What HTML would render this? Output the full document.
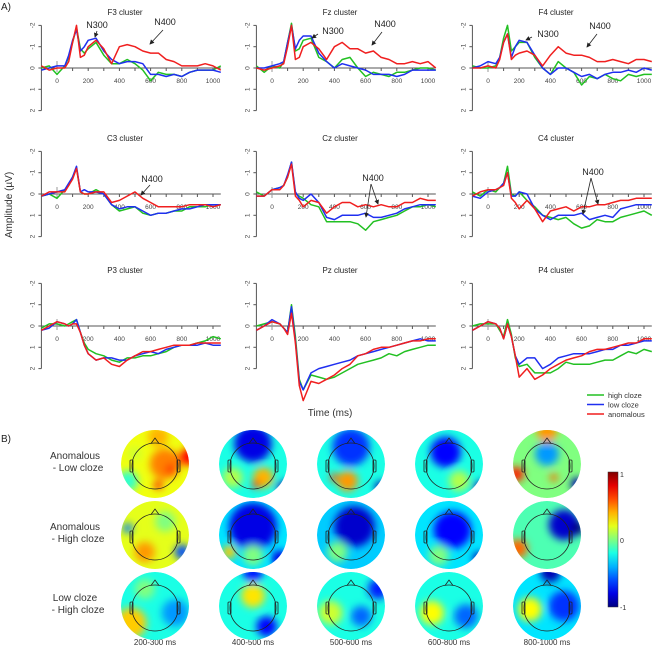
<!DOCTYPE html>
<html><head><meta charset="utf-8"><style>
html,body{margin:0;padding:0;background:#fff;}
svg{display:block;font-family:"Liberation Sans",sans-serif;}
</style></head><body>
<svg id="fig" width="654" height="650" viewBox="0 0 654 650" xmlns="http://www.w3.org/2000/svg">
<defs>
<filter id="blur" x="-50%" y="-50%" width="200%" height="200%"><feGaussianBlur stdDeviation="4"/></filter>
<marker id="arr" markerWidth="6" markerHeight="6" refX="5" refY="3" orient="auto"><path d="M0,0 L6,3 L0,6 z" fill="#222"/></marker>
</defs>
<text x="1" y="10" font-size="10" fill="#222">A)</text>
<text x="1" y="442" font-size="10" fill="#222">B)</text>
<text transform="translate(12,205) rotate(-90)" text-anchor="middle" font-size="10" fill="#333">Amplitude (µV)</text>
<text x="330" y="416" text-anchor="middle" font-size="10" fill="#333">Time (ms)</text>
<g id="plots"></g>
<g id="topos"></g>
</svg>
<script>
const times=[-100,-50,0,50,75,100,125,150,175,200,250,300,350,400,450,500,550,600,650,700,750,800,850,900,950,1000,1050];
const panelNames=["F3","Fz","F4","C3","Cz","C4","P3","Pz","P4"];
const seriesNames=["high cloze","low cloze","anomalous"];
const seriesColors=["#22c022","#1f2ff0","#f01f1f"];
const xTicks=[0,200,400,600,800,1000];
const yTicks=[-2,-1,0,1,2];
const F3_high=[0,-0.1,0.3,-0.1,-0.5,-1.2,-1.9,-0.9,-0.7,-0.9,-1.2,-0.6,-0.2,-0.2,-0.4,-0.2,0.1,0.6,0.2,0.3,0.3,0.4,0.2,0.1,0.1,0.1,-0.1];
const F3_low=[0.1,0,-0.1,-0.1,-0.6,-1.3,-1.8,-0.8,-1.0,-1.3,-1.4,-0.8,-0.4,-0.2,-0.3,-0.3,-0.2,0.3,0.3,0.4,0.3,0.4,0.2,0.1,0.1,0.1,0.2];
const F3_anom=[-0.1,0.1,0,0,-0.3,-1.2,-2.0,-0.5,-0.6,-1.0,-1.3,-0.9,-0.2,-1.0,-1.1,-1.0,-0.8,-0.7,-0.7,-0.4,-0.3,-0.1,-0.1,-0.1,-0.2,-0.1,0.1];
const Fz_high=[-0.1,0.2,-0.1,0,-0.3,-1.2,-2.1,-0.8,-0.9,-1.3,-1.4,-0.5,-0.3,0,-0.4,-0.5,0,0.4,0.2,0.3,0.4,0.2,0.2,0.1,0,0,0.1];
const Fz_low=[0,0,-0.1,-0.2,-0.3,-1.2,-2.0,-0.9,-1.3,-1.5,-1.5,-0.7,-0.3,0,-0.2,-0.1,0,0.1,0.3,0.3,0.3,0.4,0.3,0.1,0.1,0.1,0.1];
const Fz_anom=[0,0.1,0,-0.1,-0.2,-1.0,-2.0,-0.4,-0.5,-1.0,-1.2,-0.9,-0.4,-1.0,-1.2,-0.9,-0.9,-0.7,-0.8,-0.5,-0.4,-0.2,-0.2,-0.3,-0.2,-0.3,0];
const F4_high=[-0.1,0,0,-0.1,-0.5,-1.4,-2.0,-0.8,-1.0,-1.2,-1.2,-0.5,0,0.3,-0.3,0,0.2,0.8,0.4,0.5,0.3,0.5,0.6,0.3,0.4,0.3,0.3];
const F4_low=[0,-0.1,-0.3,-0.2,-0.5,-1.2,-1.6,-0.5,-1.0,-1.3,-1.2,-0.6,0,0.3,0,0,0.2,0.4,0.3,0.5,0.3,0.2,0.2,0.1,0.2,0,0.1];
const F4_anom=[0,0,-0.1,0,-0.4,-1.2,-1.6,-0.4,-0.6,-0.7,-0.8,-0.6,-0.1,-0.6,-1.0,-0.7,-0.6,-0.6,-0.5,-0.3,-0.3,-0.4,-0.3,-0.2,-0.4,-0.4,-0.3];
const C3_high=[0.1,0,0.2,-0.2,-0.4,-0.8,-1.2,-0.1,0,0,-0.2,0,0.5,0.8,0.7,0.6,0.9,1.0,0.9,0.9,0.8,0.8,0.6,0.6,0.6,0.5,0.5];
const C3_low=[0.1,0,-0.1,-0.2,-0.5,-0.8,-1.3,-0.1,-0.2,-0.1,-0.1,0,0.5,0.7,0.6,0.6,0.8,1.0,0.9,0.9,0.8,0.7,0.7,0.6,0.5,0.5,0.5];
const C3_anom=[0.1,-0.1,-0.1,-0.1,-0.4,-0.7,-1.2,-0.1,0,0,-0.1,-0.1,0.4,0.3,0.1,-0.1,0.2,0.4,0.6,0.6,0.6,0.6,0.5,0.5,0.5,0.6,0.5];
const Cz_high=[-0.1,0.1,-0.2,-0.3,-0.4,-0.8,-1.5,0,0.1,0.2,0.5,0.6,1.3,1.3,1.3,1.3,1.4,1.7,1.3,1.2,1.1,1.0,0.8,0.6,0.6,0.5,0.6];
const Cz_low=[0.1,0.1,-0.2,-0.3,-0.4,-0.9,-1.5,-0.1,0.2,0.3,0,0.4,1.1,1.2,1.0,1.0,1.0,0.9,1.1,1.1,1.0,0.9,0.7,0.6,0.5,0.5,0.5];
const Cz_anom=[0.1,0.1,-0.2,-0.2,-0.4,-0.8,-1.4,0.1,0.3,0.6,0.3,0.4,0.9,0.6,0.4,0.4,0.6,0.5,0.6,0.5,0.6,0.6,0.4,0.4,0.2,0.3,0.3];
const C4_high=[-0.1,0.1,-0.2,-0.1,-0.3,-0.5,-1.3,0,0.1,-0.1,0.3,0.6,1.0,1.1,1.2,1.1,1.4,1.6,1.5,1.2,1.3,1.3,1.1,1.0,0.9,0.8,1.0];
const C4_low=[0.1,0.2,-0.1,-0.2,-0.3,-0.5,-1.0,0.1,0.1,-0.1,0,0.7,1.0,1.2,1.0,1.0,1.0,0.9,1.2,1.1,1.0,1.1,0.7,0.6,0.5,0.5,0.5];
const C4_anom=[0.1,-0.1,-0.2,-0.2,-0.3,-0.4,-1.0,0.2,0.4,0.7,0.3,0.7,1.3,0.8,0.7,0.6,0.8,0.6,0.6,0.5,0.5,0.4,0.3,0.3,0.2,0.2,0.2];
const P3_high=[0.1,-0.1,-0.1,0,-0.1,-0.2,-0.3,0.3,0.8,1.1,1.3,1.4,1.6,1.7,1.5,1.5,1.4,1.4,1.3,1.2,1.0,0.9,0.9,0.8,0.7,0.5,0.6];
const P3_low=[0.2,0.1,-0.2,-0.1,0,-0.1,-0.3,0.3,0.9,1.3,1.6,1.5,1.5,1.6,1.6,1.4,1.3,1.2,1.3,1.1,1.0,0.9,0.9,0.9,0.8,0.9,0.9];
const P3_anom=[0.2,0,-0.2,-0.1,0,-0.1,-0.1,0.3,0.9,1.3,1.6,1.5,1.8,1.9,1.6,1.4,1.2,1.2,1.1,1.0,0.9,0.9,0.9,0.8,0.8,0.8,0.8];
const Pz_high=[0,-0.1,-0.2,-0.1,0.1,0.3,-1.0,0.5,2.5,3.0,2.3,2.4,2.5,2.4,2.2,2.0,1.8,1.7,1.6,1.5,1.3,1.4,1.2,1.1,1.0,0.9,0.9];
const Pz_low=[0.2,0,-0.3,-0.1,0.1,0.3,-0.9,0.7,2.6,3.0,2.2,2.0,1.9,1.8,1.7,1.6,1.4,1.3,1.2,1.1,1.0,0.9,0.8,0.7,0.6,0.7,0.7];
const Pz_anom=[0.2,0,-0.2,-0.1,0.1,0.4,-0.6,0.8,2.8,3.5,2.6,2.7,2.5,2.3,2.0,1.8,1.4,1.3,1.1,1.0,1.0,0.9,0.8,0.7,0.7,0.6,0.6];
const P4_high=[0,-0.1,-0.1,-0.1,0.2,0.5,-0.3,0.4,1.5,1.9,1.8,2.2,2.2,2.2,2.0,1.7,1.8,1.8,1.8,1.7,1.6,1.6,1.4,1.2,1.3,1.1,1.2];
const P4_low=[0.2,0,-0.2,-0.1,0.1,0.6,-0.1,0.5,1.4,1.8,1.5,1.5,2.0,1.8,1.5,1.4,1.3,1.3,1.3,1.2,1.1,1.1,0.9,0.9,0.8,0.7,0.7];
const P4_anom=[0.2,0,-0.2,-0.1,0.1,0.6,-0.1,0.5,1.4,2.4,2.0,2.5,2.3,2.0,1.8,1.6,1.5,1.4,1.2,1.1,1.1,1.0,0.9,0.8,0.8,0.6,0.6];
const panelSeries=[[F3_high,F3_low,F3_anom],[Fz_high,Fz_low,Fz_anom],[F4_high,F4_low,F4_anom],[C3_high,C3_low,C3_anom],[Cz_high,Cz_low,Cz_anom],[C4_high,C4_low,C4_anom],[P3_high,P3_low,P3_anom],[Pz_high,Pz_low,Pz_anom],[P4_high,P4_low,P4_anom]];

const NS="http://www.w3.org/2000/svg";
function mk(tag,attrs,parent){const e=document.createElementNS(NS,tag);for(const k in attrs)e.setAttribute(k,attrs[k]);if(parent)parent.appendChild(e);return e;}
const colX0=[57,272,488], rowY0=[68,194,326];
const XS=0.156, YS=21.3;
const plots=document.getElementById('plots');
panelNames.forEach((nm,i)=>{
  const x0=colX0[i%3], y0=rowY0[Math.floor(i/3)];
  const sx=t=>x0+t*XS, sy=v=>y0+v*YS;
  const g=mk('g',{},plots);
  
  
  const title=mk('text',{x:x0+68,y:y0-53,'text-anchor':'middle','font-size':'8',fill:'#222'},g);
  title.textContent=nm+' cluster';
  
  
  const ax=sx(-100);
  const yaxis=mk('line',{x1:ax,x2:ax,y1:sy(-2),y2:sy(2),stroke:'#555','stroke-width':1},g);
  
  
  yTicks.forEach(v=>{
    mk('line',{x1:ax-3,x2:ax,y1:sy(v),y2:sy(v),stroke:'#555','stroke-width':1},g);
    const t=mk('text',{transform:`translate(${ax-7},${sy(v)}) rotate(-90)`,'text-anchor':'middle','font-size':'6.5',fill:'#444'},g);
    t.textContent=String(v);
    
    
  });
  const xaxis=mk('line',{x1:sx(-100),x2:sx(1050),y1:y0,y2:y0,stroke:'#555','stroke-width':1},g);
  
  
  mk('line',{x1:sx(0),x2:sx(0),y1:y0-7,y2:y0+4,stroke:'#999','stroke-width':1},g);
  for(let t=100;t<=1000;t+=100) mk('line',{x1:sx(t),x2:sx(t),y1:y0,y2:y0+3,stroke:'#555','stroke-width':1},g);
  xTicks.forEach(t=>{
    const tx=mk('text',{x:sx(t),y:y0+15,'text-anchor':'middle','font-size':'6.5',fill:'#444'},g);
    tx.textContent=String(t);
    
    
  });
  panelSeries[i].forEach((arr,s)=>{
    const d=arr.map((v,k)=>(k?'L':'M')+sx(times[k]).toFixed(1)+','+sy(v).toFixed(1)).join(' ');
    const p=mk('path',{d:d,fill:'none',stroke:seriesColors[s],'stroke-width':1.5,'stroke-linejoin':'round'},g);
    
    
  });
});
const ann=[["N300",97,28,[[97,31,95,37]]],["N400",165,25,[[163,30,150,44]]],
["N300",333,34,[[318,34,312,38]]],["N400",385,27,[[382,32,372,45]]],
["N300",548,37,[[532,37,526,40]]],["N400",600,29,[[597,34,587,47]]],
["N400",152,182,[[150,185,141,195]]],["N400",373,181,[[371,184,366,217],[371,184,378,204]]],
["N400",593,175,[[591,178,583,214],[591,178,598,204]]]];
ann.forEach(a=>{
  const t=mk('text',{x:a[1],y:a[2],'text-anchor':'middle','font-size':'9',fill:'#222'},plots);
  t.textContent=a[0];
  
  
  a[3].forEach(l=>mk('line',{x1:l[0],y1:l[1],x2:l[2],y2:l[3],stroke:'#222','stroke-width':0.8,'marker-end':'url(#arr)'},plots));
});
const lg=mk('g',{},plots);


seriesNames.forEach((n,s)=>{
  const y=395+s*9.5;
  mk('line',{x1:587,x2:604,y1:y,y2:y,stroke:seriesColors[s],'stroke-width':1.5},lg);
  const t=mk('text',{x:608,y:y+3,'font-size':'7.5',fill:'#333'},lg);
  t.textContent=n;
  
  
});

function jet(v){v=Math.max(-1,Math.min(1,v));const x=(v+1)/2;
  const r=Math.max(0,Math.min(1,1.5-Math.abs(4*x-3))),g=Math.max(0,Math.min(1,1.5-Math.abs(4*x-2))),b=Math.max(0,Math.min(1,1.5-Math.abs(4*x-1)));
  return `rgb(${Math.round(r*255)},${Math.round(g*255)},${Math.round(b*255)})`;}
const rowLabels=[["Anomalous","- Low cloze"],["Anomalous","- High cloze"],["Low cloze","- High cloze"]];
const windows=["200-300 ms","400-500 ms","500-600 ms","600-800 ms","800-1000 ms"];
const mapBase=[[0.22,-0.2,-0.2,-0.2,0],[0.2,-0.3,-0.35,-0.3,-0.1],[-0.2,-0.2,-0.2,-0.2,-0.3]];
const mapBlobs=[
[[[0.3,0,0.45,0.5],[0.95,-0.2,0.25,0.75],[0.1,-0.8,0.3,0.4],[-0.8,0.5,0.3,-0.15],[0.1,0.6,0.13,0.75],[-0.6,-0.3,0.2,0.15],[0.45,0.15,0.15,0.65]],
 [[0,-0.6,0.55,-0.8],[0.3,0.4,0.3,0.4],[0.9,0.7,0.2,-0.9],[-0.6,0.4,0.3,0.1],[0.1,0.6,0.12,0.75]],
 [[0,-0.5,0.55,-0.65],[-0.1,0.5,0.3,0.45],[0.9,0.7,0.2,-0.9],[-0.5,0.4,0.12,0.6]],
 [[-0.1,-0.35,0.45,-0.75],[0.9,0.7,0.2,-0.9],[0.3,0.5,0.3,0.1]],
 [[0,-0.95,0.3,0.45],[0,-0.3,0.35,-0.45],[-0.9,0.3,0.22,0.7],[0.9,0.6,0.2,-0.9],[0.2,0.4,0.12,0.55]]],
[[[-0.8,-0.2,0.15,-0.5],[-0.3,0.5,0.3,0.45],[0.8,0.5,0.22,-0.6],[0.3,-0.4,0.3,0.0]],
 [[0,-0.25,0.7,-0.8],[-0.7,0.5,0.2,0.35],[0.8,0.7,0.25,-0.8],[0,0.6,0.3,0]],
 [[0.1,-0.25,0.6,-0.85],[-0.4,0.5,0.3,0]],
 [[0.1,-0.15,0.55,-0.75],[0.9,0.7,0.2,-0.9],[-0.3,0.6,0.3,0]],
 [[0.5,-0.3,0.45,-0.85],[-0.85,0.4,0.28,0.55],[0.9,-0.2,0.2,-1]]],
[[[-0.7,0.5,0.45,0.35],[0.6,0.2,0.4,-0.45],[-0.3,-0.5,0.3,0]],
 [[0,-0.3,0.35,0.3],[0.4,0.6,0.3,-0.75],[0,-1,0.3,-0.7]],
 [[-0.6,0.2,0.35,0.15],[0.3,0.3,0.3,-0.55],[0.8,-0.5,0.3,-0.7]],
 [[-0.5,0.2,0.35,0.25],[0.5,0.3,0.35,-0.55]],
 [[-0.5,0.1,0.35,0.25],[0.5,0,0.45,-0.65],[0.1,-1,0.3,-0.9]]]];
const topos=document.getElementById('topos');
const cxs=[155,253,351,449,547], cys=[464,535,606], R=34;
rowLabels.forEach((lab,r)=>{
  const t=mk('text',{x:75,y:cys[r]-5,'text-anchor':'middle','font-size':'10',fill:'#333'},topos);
  t.textContent=lab[0];
  
  
  const t2=mk('text',{x:78,y:cys[r]+7,'text-anchor':'middle','font-size':'10',fill:'#333'},topos);
  t2.textContent=lab[1];
  
  
});
windows.forEach((w,c)=>{
  const t=mk('text',{x:cxs[c],y:645,'text-anchor':'middle','font-size':'8',fill:'#333'},topos);
  t.textContent=w;
  
  
});
for(let r=0;r<3;r++)for(let c=0;c<5;c++){
  const cx=cxs[c],cy=cys[r];
  const id='cl'+r+c;
  const cp=mk('clipPath',{id:id},topos); mk('circle',{cx:cx,cy:cy,r:R},cp);
  const g=mk('g',{'clip-path':`url(#${id})`},topos);
  
  
  mk('circle',{cx:cx,cy:cy,r:R,fill:jet(mapBase[r][c])},g);
  const bg=mk('g',{filter:'url(#blur)'},g);
  mapBlobs[r][c].forEach(b=>mk('circle',{cx:cx+b[0]*R,cy:cy+b[1]*R,r:b[2]*R,fill:jet(b[3])},bg));
  const hy=cy+2, hr=23;
  mk('circle',{cx:cx,cy:hy,r:hr,fill:'none',stroke:'#222','stroke-width':0.8},topos);
  mk('path',{d:`M${cx-4},${hy-hr+0.5} L${cx},${hy-hr-5} L${cx+4},${hy-hr+0.5}`,fill:'none',stroke:'#222','stroke-width':0.8},topos);
  mk('rect',{x:cx-hr-2,y:hy-6,width:3,height:12,rx:1,fill:'none',stroke:'#222','stroke-width':0.8},topos);
  mk('rect',{x:cx+hr-1,y:hy-6,width:3,height:12,rx:1,fill:'none',stroke:'#222','stroke-width':0.8},topos);
}
const lgd=mk('linearGradient',{id:'jetg',x1:0,y1:1,x2:0,y2:0},topos);
for(let i=0;i<=10;i++) mk('stop',{offset:(i/10),'stop-color':jet(-1+i/5)},lgd);
const cb=mk('rect',{x:608,y:472,width:10,height:135,fill:'url(#jetg)',stroke:'#333','stroke-width':0.5},topos);


[["1",475],["0",541],["-1",608]].forEach(l=>{
  const t=mk('text',{x:620,y:l[1]+2,'font-size':'7','fill':'#333'},topos);
  t.textContent=l[0];
  
  
});
</script>
</body></html>
